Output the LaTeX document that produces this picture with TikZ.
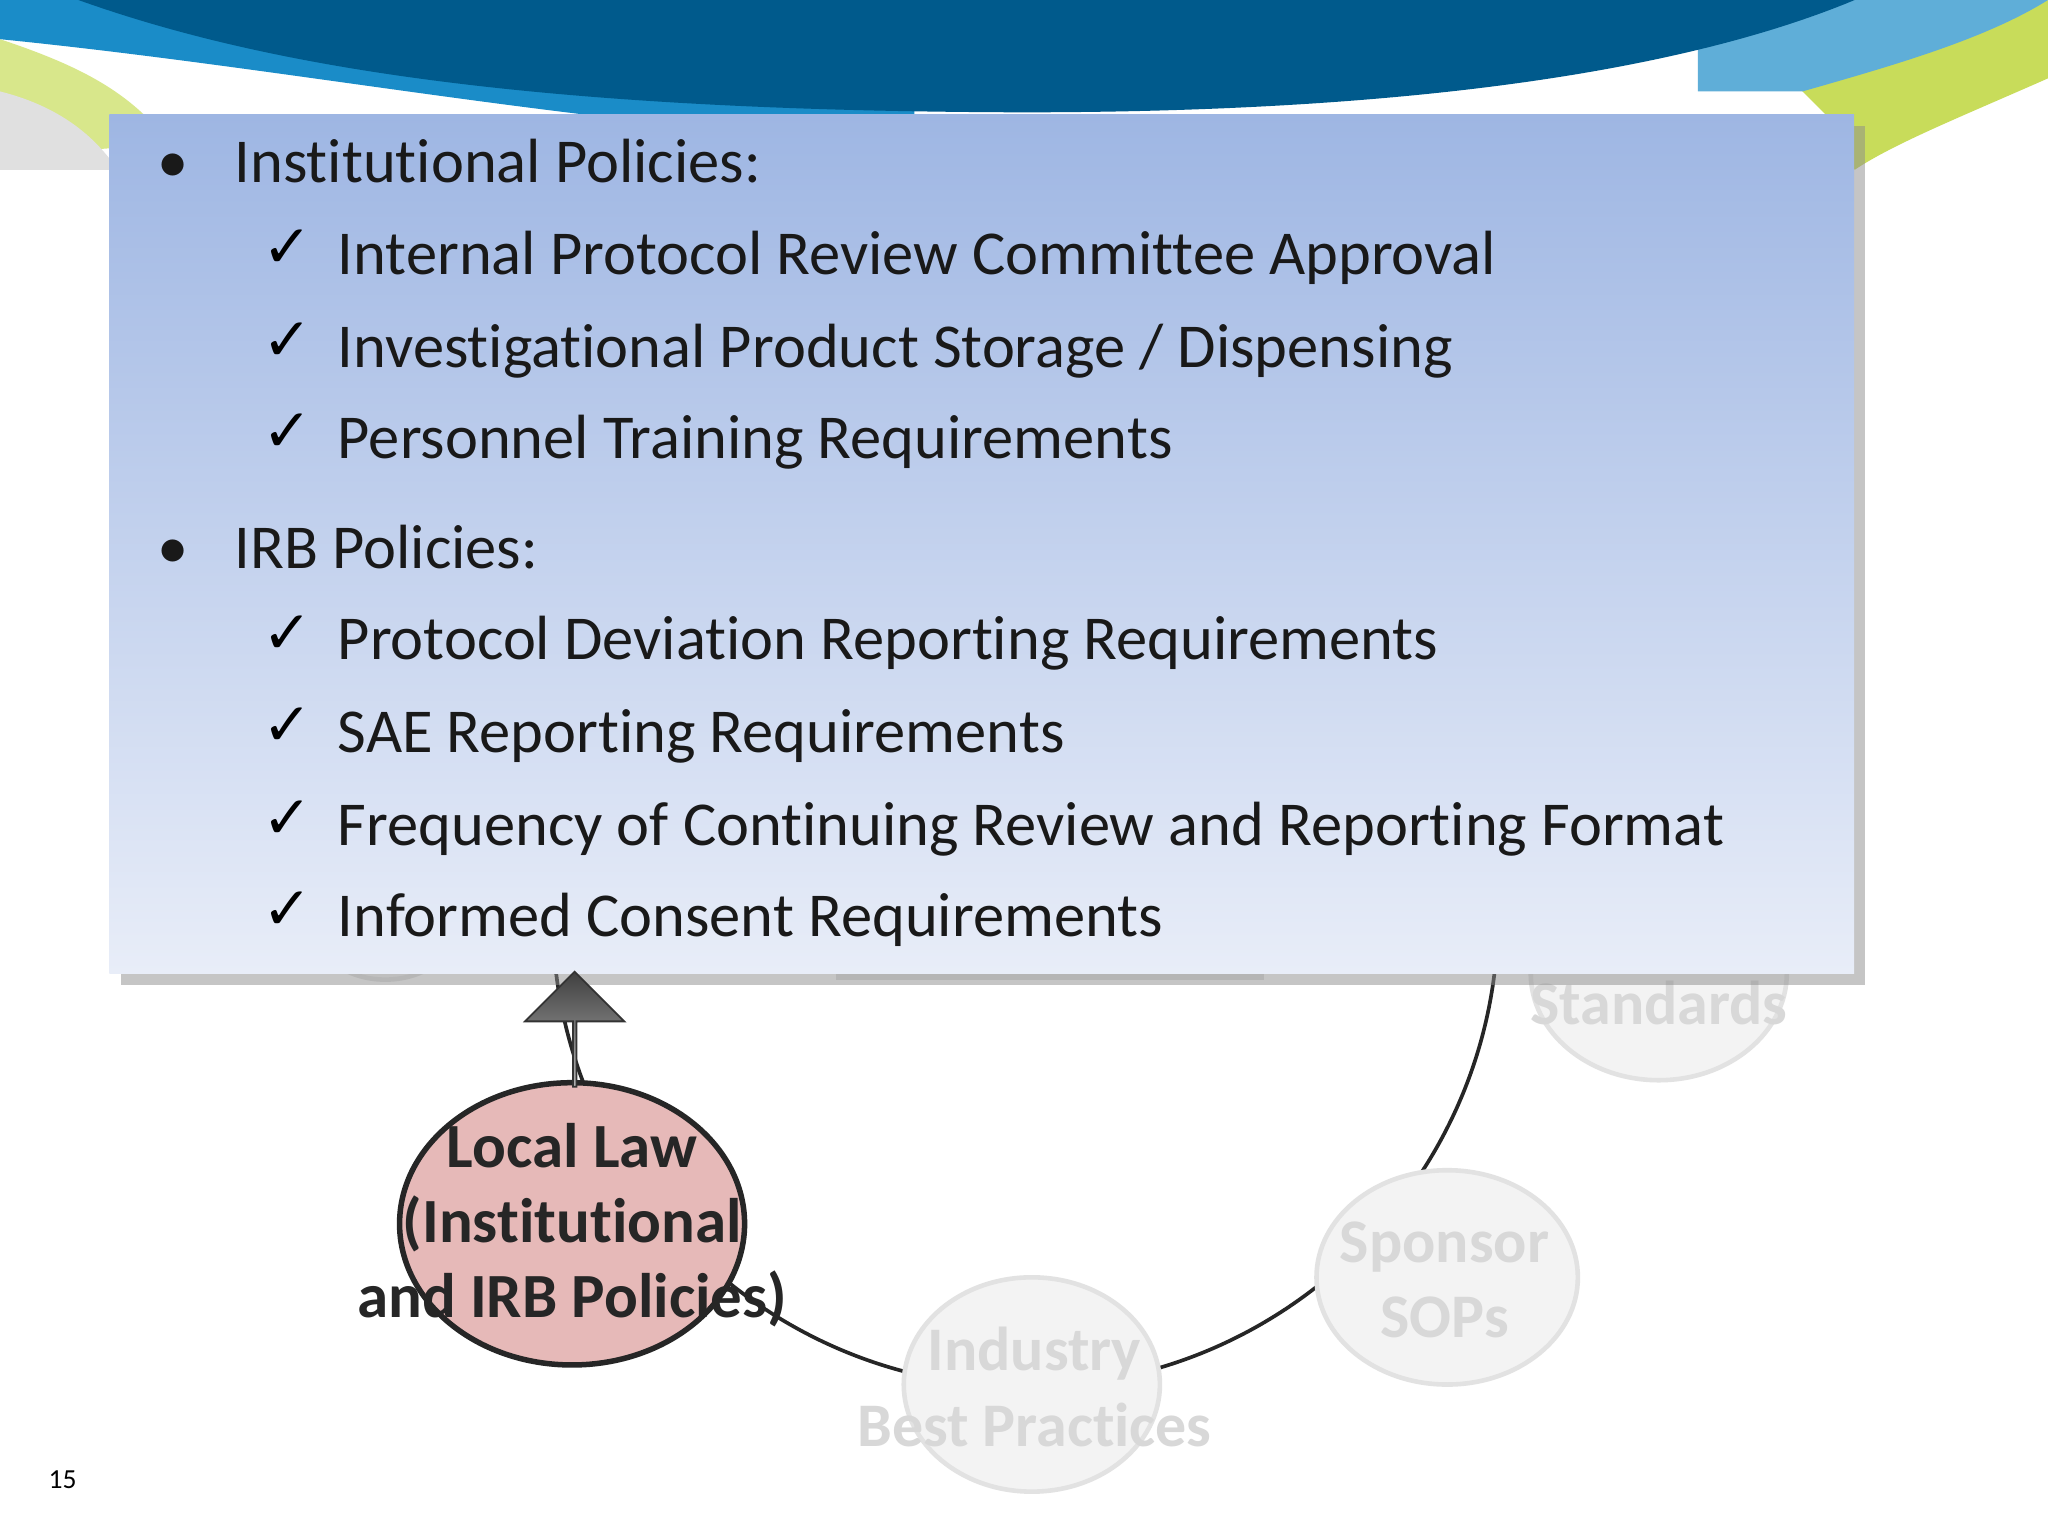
\documentclass[tikz,border=0pt]{standalone}
\usepackage{fontspec}
\setmainfont[Ligatures=NoCommon]{Carlito}
\newfontfamily\chk{DejaVu Sans}
\usetikzlibrary{shapes.geometric,shadows,arrows.meta,shapes.arrows}
\definecolor{dblue}{HTML}{005A8C}
\definecolor{mblue}{HTML}{1A8CC8}
\definecolor{lgreen}{HTML}{C8DC5A}
\definecolor{boxtop}{HTML}{9EB6E3}
\definecolor{boxbot}{HTML}{E8EDF8}
\definecolor{faded}{HTML}{F3F3F3}
\definecolor{fadedline}{HTML}{E2E2E2}
\definecolor{fadedtxt}{HTML}{D8D8D8}
\definecolor{pinkf}{HTML}{E6B9B8}
\tikzset{
  fadednode/.style={ellipse,fill=faded,draw=fadedline,line width=1pt,inner sep=0},
  fadedtext/.style={text=fadedtxt,font=\bfseries\fontsize{13.5}{16.5}\selectfont,align=center},
  itemtxt/.style={anchor=base west,font=\fontsize{13.6}{16}\selectfont,text=black!90,inner sep=0},
  chkmark/.style={anchor=base west,font=\chk\fontsize{13}{16}\selectfont,inner sep=0},
}
\begin{document}
\begin{tikzpicture}[x=0.01cm,y=-0.01cm]
\useasboundingbox (0,0) rectangle (1568,1176);
\fill[white] (0,0) rectangle (1568,1176);
% banner
\fill[lgreen!70] (0,30) .. controls (60,50) and (100,70) .. (130,110) -- (0,120) -- cycle;
\fill[black!12] (0,70) .. controls (40,80) and (70,100) .. (90,130) -- (0,130)--cycle;
\fill[mblue] (0,0) -- (0,30) .. controls (150,45) and (300,70) .. (450,88) -- (700,90) -- (700,0) -- cycle;
\fill[lgreen] (1350,40) .. controls (1450,40) and (1520,20) .. (1568,0) -- (1568,60) .. controls (1500,90) and (1450,110) .. (1420,130) -- (1400,90) -- cycle;
\fill[mblue!70] (1300,0) -- (1568,0) .. controls (1520,30) and (1450,50) .. (1380,70) -- (1300,70) -- cycle;
\fill[dblue] (60,0) .. controls (200,50) and (400,85) .. (783,86) .. controls (1100,86) and (1300,50) .. (1420,0) -- cycle;
% ring
\draw[black!85,line width=0.8pt] (785,700) circle (362);
% faded nodes
\node[fadednode,minimum width=1.96cm,minimum height=1.64cm] (std) at (1270,745) {};
\node[fadedtext] at (1270,768) {Standards};
\node[fadednode,minimum width=2cm,minimum height=1.64cm] (spo) at (1108,978) {};
\node[fadedtext] at (1106,980) {Sponsor\\SOPs};
\node[fadednode,minimum width=1.96cm,minimum height=1.64cm] (ind) at (790,1060) {};
\node[fadedtext] at (792,1062) {Industry\\Best Practices};
\node[fadednode,minimum width=1.2cm,minimum height=1cm] (lft) at (295,700) {};
\fill[black!12] (640,700) rectangle (968,750);
% main box
\node[draw=none,minimum width=13.35cm,minimum height=6.57cm,anchor=north west,
  top color=boxtop,bottom color=boxbot,inner sep=0,
  drop shadow={shadow xshift=2.5pt,shadow yshift=-2.5pt,fill=black!45}] (box) at (83,87) {};
\node[itemtxt] (b1) at (120,140) {•};
\node[itemtxt] (i1) at (179,140) {Institutional Policies:};
\node[chkmark] (k1) at (200,205) {✓};
\node[itemtxt] (c1) at (258,210) {Internal Protocol Review Committee Approval};
\node[chkmark] (k2) at (200,276) {✓};
\node[itemtxt] (c2) at (258,281) {Investigational Product Storage / Dispensing};
\node[chkmark] (k3) at (200,346) {✓};
\node[itemtxt] (c3) at (258,351) {Personnel Training Requirements};
\node[itemtxt] (b2) at (120,435) {•};
\node[itemtxt] (i2) at (179,435) {IRB Policies:};
\node[chkmark] (k4) at (200,500) {✓};
\node[itemtxt] (c4) at (258,505) {Protocol Deviation Reporting Requirements};
\node[chkmark] (k5) at (200,571) {✓};
\node[itemtxt] (c5) at (258,576) {SAE Reporting Requirements};
\node[chkmark] (k6) at (200,642) {✓};
\node[itemtxt] (c6) at (258,647) {Frequency of Continuing Review and Reporting Format};
\node[chkmark] (k7) at (200,712) {✓};
\node[itemtxt] (c7) at (258,717) {Informed Consent Requirements};
% local law
\node[ellipse,fill=pinkf,draw=black!85,line width=1.2pt,minimum width=2.64cm,minimum height=2.16cm,inner sep=0] (ll) at (438,937) {};
\node[font=\bfseries\fontsize{13.7}{16.3}\selectfont,text=black!85,align=center] at (438,938) {Local Law\\(Institutional\\and IRB Policies)};
% arrow
\node[single arrow,shape border rotate=90,minimum height=0.88cm,minimum width=0.76cm,single arrow head extend=0.19cm,
  draw=black!80,top color=black!75,bottom color=black!30,anchor=tip,inner sep=0] (ar) at (440,743) {};
\node[font=\fontsize{6}{7}\selectfont] (pg) at (48,1133) {15};
\end{tikzpicture}
\end{document}
